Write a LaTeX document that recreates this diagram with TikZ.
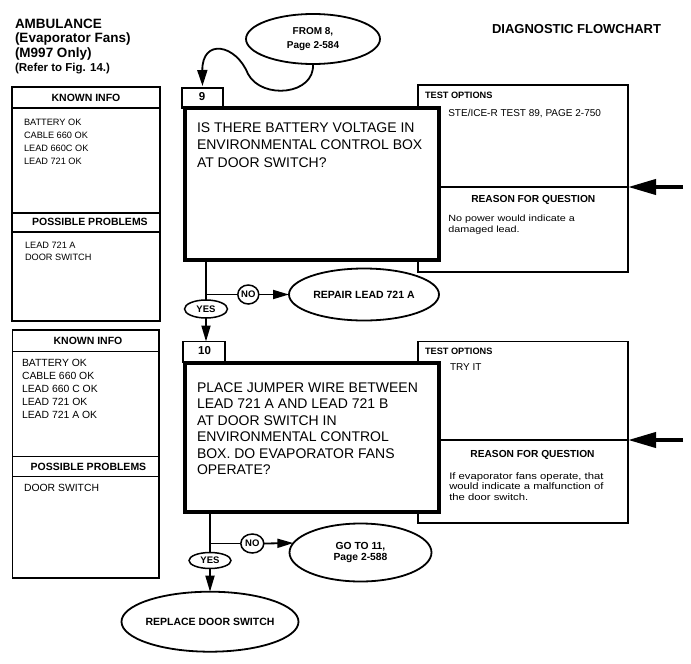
\documentclass[tikz,border=0pt]{standalone}
\usepackage{fontspec}
\setmainfont{Liberation Sans}
\newfontfamily\widesf[FakeStretch=1.2]{Liberation Sans}
\usetikzlibrary{shapes.geometric,arrows.meta,calc}
\newcommand\fsz[2]{\fontsize{#1}{#2}\selectfont}
\begin{document}
\begin{tikzpicture}[x=1pt,y=-1pt,
  every node/.style={inner sep=0pt, outer sep=0pt},
  panel/.style={draw, line width=1.5pt, fill=white},
  divl/.style={line width=1.5pt},
  qbox/.style={draw, line width=4pt, fill=white},
  tabbox/.style={draw, line width=1.5pt, fill=white},
  conn/.style={line width=1.8pt},
  arr/.style={-{Triangle[length=16pt,width=9pt]}},
  bigarr/.style={line width=4pt, -{Triangle[length=28pt,width=15pt]}},
  oval/.style={draw, ellipse, line width=1.8pt, fill=white, align=center, font=\bfseries\fsz{10.5}{12}},
  yn/.style={draw, ellipse, line width=1.5pt, fill=white, font=\bfseries\fsz{9.5}{11}},
  hdr/.style={anchor=base, font=\bfseries\fsz{10.5}{12}},
  titl/.style={anchor=base west, font=\bfseries\fsz{13.5}{16}},
  list/.style={anchor=north west, align=left},
  qtext/.style={anchor=north west, align=left},
  tohdr/.style={anchor=base west, font=\bfseries\fsz{9.2}{11}},
  rqhdr/.style={anchor=base, font=\bfseries\fsz{10.2}{12}},
  tocont/.style={anchor=base west, font=\fsz{10}{12}},
  rtext/.style={anchor=north west, align=left}
]
\fill[white] (0,0) rectangle (691,664);

% titles
\node[titl] (t1) at (15,28.3) {AMBULANCE};
\node[titl] (t2) at (15,42.3) {(Evaporator Fans)};
\node[titl] (t3) at (15,57.3) {(M997 Only)};
\node[anchor=base west, font=\bfseries\fsz{11.5}{13}] (t4) at (15,71) {(Refer to Fig. 14.)};
\node[anchor=base west, font=\bfseries\fsz{13}{15}] (diag) at (492,33.3) {DIAGNOSTIC FLOWCHART};

% left panel 1
\node[panel, minimum width=148pt, minimum height=234pt] (kp1) at (86,204) {};
\draw[divl] (12,108) -- (160,108);
\draw[divl] (12,213) -- (160,213);
\draw[divl] (12,232) -- (160,232);
\node[hdr] (kh1) at (86,101.3) {KNOWN INFO};
\node[hdr] (ph1) at (90,225.8) {POSSIBLE PROBLEMS};
\node[list, font=\fsz{9.2}{13}] (ki1) at (24,119.5) {BATTERY OK\\CABLE 660 OK\\LEAD 660C OK\\LEAD 721 OK};
\node[list, font=\fsz{9.2}{12}] (pp1) at (25,241.8) {LEAD 721 A\\DOOR SWITCH};

% left panel 2
\node[panel, minimum width=146.5pt, minimum height=248pt] (kp2) at (85.75,454) {};
\draw[divl] (12.5,351.7) -- (159,351.7);
\draw[divl] (12.5,456.7) -- (159,456.7);
\draw[divl] (12.5,476.7) -- (159,476.7);
\node[hdr] (kh2) at (88,344.5) {KNOWN INFO};
\node[hdr] (ph2) at (88.5,470.5) {POSSIBLE PROBLEMS};
\node[list, font=\fsz{10.4}{13}] (ki2) at (22,359.6) {BATTERY OK\\CABLE 660 OK\\LEAD 660 C OK\\LEAD 721 OK\\LEAD 721 A OK};
\node[list, font=\fsz{10.4}{13}] (pp2) at (24,484.6) {DOOR SWITCH};

% test option panels
\node[panel, minimum width=210pt, minimum height=187pt] (tp9) at (523,178.5) {};
\coordinate (s9) at (683,187);
\draw[line width=2.2pt] (tp9.west |- s9) -- (tp9.east |- s9);
\draw[bigarr] (s9) -- (tp9.east |- s9);
\node[tohdr] (to9) at (425,98.3) {TEST OPTIONS};
\node[tocont] (tc9) at (448.3,116.9) {STE/ICE-R TEST 89, PAGE 2-750};
\node[rqhdr] (rq9) at (533.3,202) {REASON FOR QUESTION};
\node[rtext, font=\widesf\fsz{9}{11}] (rt9) at (448.3,215.1) {No power would indicate a\\damaged lead.};

\node[panel, minimum width=210pt, minimum height=181.5pt] (tp10) at (523,432.25) {};
\coordinate (s10) at (683,440);
\draw[line width=2.2pt] (tp10.west |- s10) -- (tp10.east |- s10);
\draw[bigarr] (s10) -- (tp10.east |- s10);
\node[tohdr] (to10) at (425,354) {TEST OPTIONS};
\node[tocont] (tc10) at (450,370.9) {TRY IT};
\node[rqhdr] (rq10) at (532.5,457) {REASON FOR QUESTION};
\node[rtext, font=\widesf\fsz{9.4}{10.5}] (rt10) at (449.3,472.3) {If evaporator fans operate, that\\would indicate a malfunction of\\the door switch.};

% tabs and question boxes
\node[tabbox, minimum width=41pt, minimum height=20pt] (tab9) at (202.5,98) {};
\node[font=\bfseries\fsz{11.5}{13}] (n9) at (202,97) {9};
\node[qbox, minimum width=254pt, minimum height=152pt] (box9) at (312,184) {};
\node[qtext, font=\fsz{14}{17.5}] (q9) at (197,122.6) {IS THERE BATTERY VOLTAGE IN\\ENVIRONMENTAL CONTROL BOX\\AT DOOR SWITCH?};

\node[tabbox, minimum width=42pt, minimum height=21pt] (tab10) at (204,352) {};
\node[font=\bfseries\fsz{11.5}{13}] (n10) at (204.5,351) {10};
\node[qbox, minimum width=254pt, minimum height=149.5pt] (box10) at (312,437.25) {};
\node[qtext, font=\fsz{14}{16.5}] (q10) at (197,382.5) {PLACE JUMPER WIRE BETWEEN\\LEAD 721 A AND LEAD 721 B\\AT DOOR SWITCH IN\\ENVIRONMENTAL CONTROL\\BOX. DO EVAPORATOR FANS\\OPERATE?};

% ovals
\node[oval, minimum width=134pt, minimum height=50pt, font=\bfseries\fsz{10}{14}] (from8) at (313,39) {FROM 8,\\Page 2-584};
\node[oval, minimum width=150pt, minimum height=52pt] (repair) at (364,294.5) {\makebox[0pt]{REPAIR LEAD 721 A}};
\node[oval, minimum width=142pt, minimum height=58pt, font=\bfseries\fsz{10.3}{11.5}] (goto) at (360.5,552.5) {GO TO 11,\\Page 2-588};
\node[oval, minimum width=177pt, minimum height=60pt] (replace) at (210,621.7) {\makebox[0pt]{REPLACE DOOR SWITCH}};

% yes / no
\node[yn, minimum width=43pt, minimum height=18pt] (yes9) at (206,309) {YES};
\node[yn, minimum width=21pt, minimum height=19pt] (no9) at (248.3,294.5) {NO};
\coordinate (j9) at (206,294.5);
\node[yn, minimum width=42pt, minimum height=16pt] (yes10) at (210,560.5) {YES};
\node[yn, minimum width=23pt, minimum height=19pt] (no10) at (252.3,543.5) {NO};
\coordinate (j10) at (210,543.5);

% connectors
\draw[conn, -{Triangle[length=16pt,width=10pt]}, shorten >=2pt] (from8.south) .. controls (315,95) and (262,100) .. (248,74) .. controls (236,44) and (202,38) .. (tab9.north);
\draw[conn] (box9.south -| j9) -- (yes9.north);
\draw[conn] (j9) -- (no9.west);
\draw[conn,arr] (no9.east) -- (repair.west);
\draw[conn,arr] (yes9.south) -- (yes9.south |- tab10.north);

\draw[conn] (box10.south -| j10) -- (yes10.north);
\draw[conn] (j10) -- (no10.west);
\draw[conn,arr] (no10.east) -- (goto.172);
\draw[conn,arr] (yes10.south) -- (replace.north);
\end{tikzpicture}
\end{document}
